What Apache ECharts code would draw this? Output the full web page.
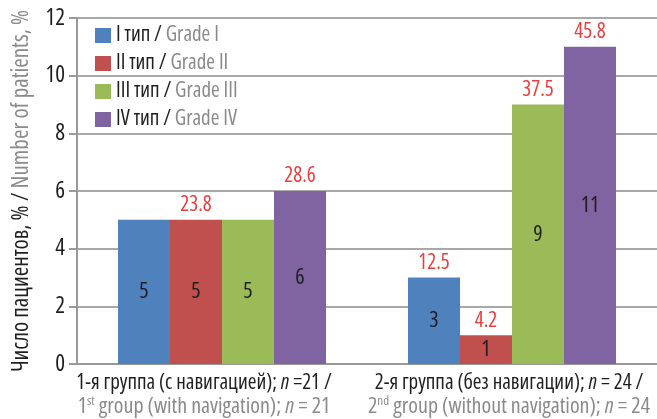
<!DOCTYPE html>
<html>
<head>
<meta charset="utf-8">
<script src="https://cdn.jsdelivr.net/npm/echarts@6/dist/echarts.min.js"></script>
<style>
  html, body { margin: 0; padding: 0; background: #fff; }
  #chart { width: 657px; height: 419px; }
</style>
</head>
<body>
<div id="chart"></div>
<script>
// data
const groupsRu = ['1-я группа (с навигацией); ', '2-я группа (без навигации); ']
const groupsEn = ['group (with navigation); ', 'group (without navigation); ']
const groupOrd = ['1', '2']
const groupSup = ['st', 'nd']
const groupN = [21, 24]

const gradeRu = ['I тип', 'II тип', 'III тип', 'IV тип']
const gradeEn = ['Grade I', 'Grade II', 'Grade III', 'Grade IV']
const gradeColors = ['#4f81bd', '#c0504d', '#9bbb59', '#8064a2']

// number of patients per grade, by group
const grade1 = [5, 3]
const grade2 = [5, 1]
const grade3 = [5, 9]
const grade4 = [6, 11]
// percent labels shown above bars ('' = not shown)
const pct1 = ['', '12.5']
const pct2 = ['23.8', '4.2']
const pct3 = ['', '37.5']
const pct4 = ['28.6', '45.8']

const yTicks = [0, 2, 4, 6, 8, 10, 12]

// 'condensed' ends up in the canvas font shorthand as font-stretch
const FONT = "'Open Sans', sans-serif"
const STRETCH = 'condensed'
const DARK = '#1e1e1e'
const GRAY = '#8a8a8a'

const counts = [grade1, grade2, grade3, grade4]
const pcts = [pct1, pct2, pct3, pct4]
const legendNames = gradeRu.map((r, i) => r + ' / ' + gradeEn[i])

const txt = (color, size, extra) => Object.assign({ color: color, fontFamily: FONT, fontWeight: STRETCH, fontSize: size }, extra || {})

const series = []
counts.forEach((vals, i) => {
  series.push({
    name: legendNames[i],
    type: 'bar',
    stack: 's' + i,
    data: vals,
    barWidth: 52,
    barGap: '0%',
    itemStyle: { color: gradeColors[i] },
    label: txt(DARK, 22, { show: true, position: 'inside' })
  })
})
pcts.forEach((vals, i) => {
  series.push({
    name: 'pct' + i,
    type: 'bar',
    stack: 's' + i,
    data: vals.map(() => 0),
    barWidth: 52,
    itemStyle: { color: 'transparent' },
    label: txt('#ee3b3b', 21, {
      show: true,
      position: 'top',
      distance: 4,
      formatter: p => vals[p.dataIndex]
    })
  })
})

const xLabel = idx =>
  '{a|' + groupsRu[idx] + '}{ai|n}{a| =' + (idx === 0 ? '' : ' ') + groupN[idx] + ' /}\n' +
  '{b|' + groupOrd[idx] + '}{sup|' + groupSup[idx] + '}{b| ' + groupsEn[idx] + '}{bi|n}{b| = ' + groupN[idx] + '}'

const chart = echarts.init(document.getElementById('chart'))
chart.setOption({
  animation: false,
  textStyle: { fontFamily: FONT },
  grid: { left: 77, right: 0, top: 18, bottom: 55, outerBoundsMode: 'none', containLabel: false },
  legend: {
    data: legendNames,
    orient: 'vertical',
    left: 90,
    top: 20,
    itemWidth: 16,
    itemHeight: 15,
    itemGap: 7,
    icon: 'rect',
    formatter: name => {
      const i = legendNames.indexOf(name)
      return '{a|' + gradeRu[i] + ' / }{b|' + gradeEn[i] + '}'
    },
    textStyle: {
      rich: {
        a: txt(DARK, 21),
        b: txt(GRAY, 21)
      }
    }
  },
  xAxis: {
    type: 'category',
    data: [
      { value: groupsRu[0], textStyle: { padding: [0, 36, 0, 0] } },
      { value: groupsRu[1], textStyle: { padding: [0, 6, 0, 0] } }
    ],
    axisLine: { lineStyle: { color: '#999', width: 2 } },
    axisTick: { show: false },
    axisLabel: {
      margin: 7,
      interval: 0,
      lineHeight: 24,
      formatter: (v, idx) => xLabel(idx),
      rich: {
        a: txt(DARK, 21, { lineHeight: 24 }),
        ai: txt(DARK, 21, { fontStyle: 'italic', lineHeight: 24 }),
        b: txt(GRAY, 22, { lineHeight: 24 }),
        bi: txt(GRAY, 22, { fontStyle: 'italic', lineHeight: 24 }),
        sup: txt(GRAY, 13, { verticalAlign: 'top', lineHeight: 24 })
      }
    }
  },
  yAxis: {
    type: 'value',
    min: yTicks[0],
    max: yTicks[yTicks.length - 1],
    interval: 2,
    name: '{a|Число пациентов, % / }{b|Number of patients, %}',
    nameLocation: 'middle',
    nameGap: 44,
    nameTextStyle: {
      rich: {
        a: txt(DARK, 23),
        b: txt(GRAY, 23)
      }
    },
    axisLine: { show: true, lineStyle: { color: '#999', width: 2 } },
    axisTick: { show: true, length: 8, lineStyle: { color: '#999', width: 2 } },
    axisLabel: txt(DARK, 23, { margin: 12 }),
    splitLine: { lineStyle: { color: '#a8a8a8', width: 2 } }
  },
  series: series
})
</script>
</body>
</html>
